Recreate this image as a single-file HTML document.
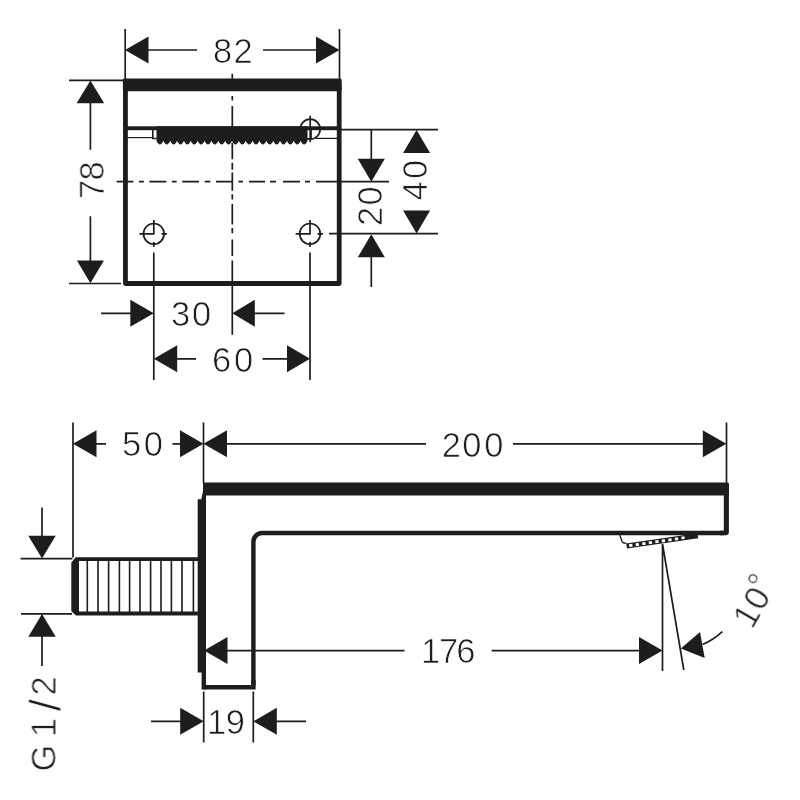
<!DOCTYPE html>
<html>
<head>
<meta charset="utf-8">
<title>Drawing</title>
<style>
html,body{margin:0;padding:0;background:#fff;}
body{width:800px;height:800px;overflow:hidden;}
svg{display:block;}
text{font-family:"Liberation Sans",sans-serif;font-size:34.5px;fill:#1d1d1b;stroke:#fff;stroke-width:.7px;}
.t{stroke:#1d1d1b;stroke-width:1.7;fill:none;}
.k{fill:#1d1d1b;stroke:none;}
.w{stroke:#1d1d1b;stroke-width:4.8;fill:none;}
</style>
</head>
<body>
<svg width="800" height="800" viewBox="0 0 800 800">
<rect width="800" height="800" fill="#fff"/>

<!-- ================= TOP VIEW ================= -->
<!-- extension lines 82 -->
<path class="t" d="M125.2 29V80M339.5 29V80"/>
<!-- dim 82 -->
<path class="t" d="M147 50H197M263 50H317"/>
<path class="k" d="M125 50L148.5 36.5V63.5Z"/>
<path class="k" d="M339.5 50L316 36.5V63.5Z"/>

<!-- box -->
<rect class="k" x="122.9" y="78.4" width="218.8" height="12.9" rx="1.5"/>
<path class="w" d="M125.45 85V283.5H339.2V85" stroke-linejoin="round"/>

<!-- spray bar -->
<rect class="k" x="127" y="126.3" width="212" height="3.9"/>
<path class="t" d="M127 137.6H152.5" style="stroke-width:1.2"/>
<path class="t" d="M152.8 129V138.5H156.5" style="stroke-width:1.6"/>
<path class="t" d="M316 138.4H338" style="stroke-width:1.3"/>
<path class="t" d="M307 138.6H311.2V130" style="stroke-width:1.3"/>
<path class="k" d="M156.5 126.3H307.5V140.7 q-3.432 7.6 -6.864 0 q-3.432 7.6 -6.864 0 q-3.432 7.6 -6.864 0 q-3.432 7.6 -6.864 0 q-3.432 7.6 -6.864 0 q-3.432 7.6 -6.864 0 q-3.432 7.6 -6.864 0 q-3.432 7.6 -6.864 0 q-3.432 7.6 -6.864 0 q-3.432 7.6 -6.864 0 q-3.432 7.6 -6.864 0 q-3.432 7.6 -6.864 0 q-3.432 7.6 -6.864 0 q-3.432 7.6 -6.864 0 q-3.432 7.6 -6.864 0 q-3.432 7.6 -6.864 0 q-3.432 7.6 -6.864 0 q-3.432 7.6 -6.864 0 q-3.432 7.6 -6.864 0 q-3.432 7.6 -6.864 0 q-3.432 7.6 -6.864 0 q-3.432 7.6 -6.864 0 Z"/>

<!-- centre lines -->
<path class="t" d="M232.3 73.8V79M232.3 95.9V100.6M232.3 105.9V127M232.3 143V159.3M232.3 162.8V169.8M232.3 172.4V190.8M232.3 194.3V199.5M232.3 204V224.5M232.3 228V233.3M232.3 239.4V256M232.3 260.4V334.8"/>
<path class="t" d="M116.6 181.6H133.4M139 181.6H143.8M149.4 181.6H166.3M171.9 181.6H176.6M182.2 181.6H199M204.7 181.6H210.3M216 181.6H232.3M238.4 181.6H243M249 181.6H265M270 181.6H276M283 181.6H300M305 181.6H310M316 181.6H389"/>

<!-- circles -->
<g class="t" style="stroke-width:1.7">
<circle cx="153.8" cy="233.8" r="10.3"/>
<path d="M139.4 233.8H153.8V220M161.5 233.8H167M153.8 242V247"/>
<circle cx="310" cy="233.8" r="10.3"/>
<path d="M295.6 233.8H310V220M317.5 233.8H323M310 242V247"/>
<circle cx="310.2" cy="129.2" r="10"/>
<path d="M310.2 115.7V142.2"/>
</g>
<!-- vertical ext lines from circles -->
<path class="t" d="M153.8 252.5V380M310 252.5V380"/>

<!-- dim 78 -->
<path class="t" d="M69 80.3H123M69 283.5H121"/>
<path class="t" d="M90.4 102V149.8M90.4 216.3V262"/>
<path class="k" d="M90.4 80.6L76.6 103.2H104.2Z"/>
<path class="k" d="M90.4 283.2L76.9 260.4H103.9Z"/>

<!-- dim 30 -->
<path class="t" d="M101 313.3H131M254 313.3H284.5"/>
<path class="k" d="M153.8 313.3L130.3 299.8V326.8Z"/>
<path class="k" d="M232.3 313.3L254.8 299.8V326.8Z"/>

<!-- dim 60 -->
<path class="t" d="M176 358.8H196M262.5 358.8H288"/>
<path class="k" d="M153.8 358.8L177.2 345.3V372.3Z"/>
<path class="k" d="M310 358.8L287 345.3V372.3Z"/>

<!-- dims 20 / 40 -->
<path class="t" d="M340 129.6H438M329 233.6H438"/>
<path class="t" d="M371.3 130V160M371.3 256V287"/>
<path class="k" d="M371.3 181.8L357.8 158.8H384.8Z"/>
<path class="k" d="M371.3 234.3L357.8 257.3H384.8Z"/>
<path class="k" d="M416.6 130L403.1 153H430.1Z"/>
<path class="k" d="M416.6 233.5L403.1 210.5H430.1Z"/>

<!-- ================= SIDE VIEW ================= -->
<!-- ext lines -->
<path class="t" d="M73 422.5V557.5M203.5 422.5V483M726.5 422.5V483"/>
<!-- dim 50 -->
<path class="t" d="M95 443.8H106M172.5 443.8H181"/>
<path class="k" d="M73 443.8L96.5 430.3V457.3Z"/>
<path class="k" d="M203.5 443.8L180 430.3V457.3Z"/>
<!-- dim 200 -->
<path class="t" d="M226 443.8H426M513 443.8H704"/>
<path class="k" d="M203.5 443.8L227 430.3V457.3Z"/>
<path class="k" d="M726.3 443.8L702.8 430.3V457.3Z"/>

<!-- body -->
<path class="k" d="M203 482.5H727.5Q729 482.5 729 484V495.6H203Z"/>
<!-- plate -->
<path class="k" d="M203 491L201.3 499.3H197.7V672.4H201.6V689.4H206V491Z"/>
<!-- right wall & bottom of arm & inner L -->
<path class="w" style="stroke-width:4.4" d="M724 533H262.2A8.8 8.8 0 0 0 253.4 541.8V685" />
<path class="w" style="stroke-width:4.6" d="M251.1 687.2H203.9" stroke-linecap="butt"/>
<path class="k" d="M251.1 680H255.65V689.5H251.1Z"/>
<path class="k" d="M723.8 490H728.9V532Q728.9 535.2 725.7 535.2H720V530.8H723.8Z"/>

<!-- thread -->
<path class="k" d="M75.6 557.2H198V561H79V611.5H198V615.5H76L71.3 611V562.8Z"/>
<path class="t" style="stroke-width:1.6" d="M87.3 560V613M98 560V613M108.6 560V613M119.4 560V613M129.6 560V613M140 560V613M150.6 560V613M161 560V613M171.4 560V613M182 560V613M193.4 560V613"/>

<!-- G 1/2 dim -->
<path class="t" d="M20.5 558.7H72.5M21 613.8H72"/>
<path class="t" d="M42 507.5V537M42 635V666"/>
<path class="k" d="M42 558.5L28.3 535.7H55.7Z"/>
<path class="k" d="M42 614L28.3 636.8H55.7Z"/>

<!-- dim 176 -->
<path class="t" d="M225 650.6H404.5M491.7 650.6H641"/>
<path class="k" d="M204 650.6L227.5 637.1V664.1Z"/>
<path class="k" d="M662.5 650.6L639 637.1V664.1Z"/>

<!-- dim 19 -->
<path class="t" d="M203.7 691.5V742.6M253.3 691.5V742.6"/>
<path class="t" d="M151 721.3H181.5M275 721.3H306"/>
<path class="k" d="M203.7 721.3L180.2 707.8V734.8Z"/>
<path class="k" d="M253.3 721.3L276.8 707.8V734.8Z"/>

<!-- spray -->
<path class="t" style="stroke-width:1.3" d="M619.8 535L622 541.5Q622.8 543.3 626.5 543.3"/>
<g transform="translate(626.2 543.4) rotate(-8.2)">
<rect class="k" x="0" y="0" width="72" height="5.2"/>
<g fill="#fff">
<rect x="2.6" y="1.3" width="3.3" height="2.8"/><rect x="9.2" y="1.3" width="3.3" height="2.8"/><rect x="15.8" y="1.3" width="3.3" height="2.8"/><rect x="22.4" y="1.3" width="3.3" height="2.8"/><rect x="29" y="1.3" width="3.3" height="2.8"/><rect x="35.6" y="1.3" width="3.3" height="2.8"/><rect x="42.2" y="1.3" width="3.3" height="2.8"/><rect x="48.8" y="1.3" width="3.3" height="2.8"/><rect x="55.4" y="1.3" width="3.3" height="2.6"/>
</g>
</g>
<!-- angle lines -->
<path class="t" d="M662.5 544V671M662.5 544L683.8 670"/>
<!-- 10 deg arrow -->
<path class="k" d="M680.8 648.5L700 632L704.7 658Z"/>
<path class="t" d="M702.5 644.5Q713.5 640 722.3 631.7"/>
<!-- dimension texts -->
<g opacity=".999">
<text x="212.9 233.4" y="62.6">82</text>
<text x="170.9 192.1" y="326.4">30</text>
<text x="211.9 234.1" y="371.5">60</text>
<text x="121.9 143.7" y="456.4">50</text>
<text x="441.7 462.2 484.2" y="456.5">200</text>
<text x="420.9 439.1 456.3" y="663.3">176</text>
<text x="207.1 225.7" y="733.6">19</text>
<text transform="translate(103.8 0) rotate(-90)" x="-199.1 -180.6" y="0">78</text>
<text transform="translate(382 0) rotate(-90)" x="-225.9 -205.4" y="0">20</text>
<text transform="translate(427.4 0) rotate(-90)" x="-200.5 -179" y="0">40</text>
<text transform="translate(55.6 0) rotate(-90)" x="-771.6 -748 -737.2 -711.3 -695.6" y="0 0 0 4.7 0">G 1<tspan style="font-size:44px">/</tspan>2</text>
<text transform="translate(752.1 630) rotate(-60)" x="0 20.3 37.9" y="0 -0.3 -5.5">10°</text>
</g>
</svg>
</body>
</html>
